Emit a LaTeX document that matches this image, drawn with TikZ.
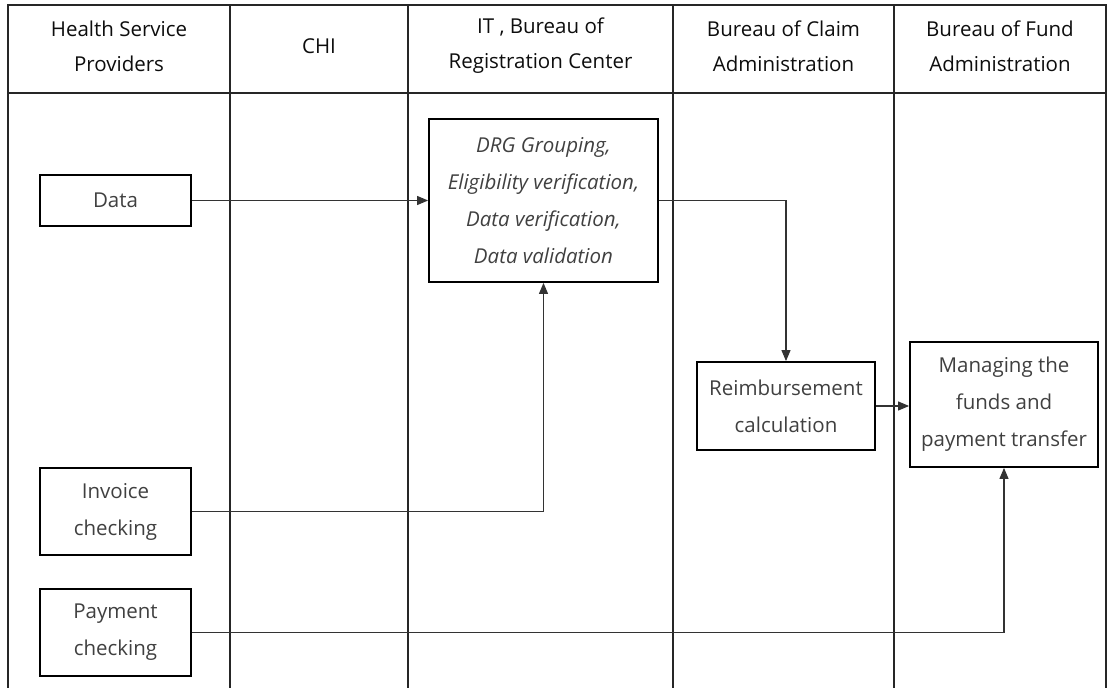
\documentclass[tikz,border=0pt]{standalone}
\usepackage{fontspec}
\setmainfont{Open Sans}
\usetikzlibrary{arrows.meta}
\begin{document}
\begin{tikzpicture}[x=1pt,y=-1pt,
  lane/.style={draw=black!85, line width=1.3pt},
  head/.style={align=center, font=\fontsize{20.5}{35}\selectfont, text=black!95},
  proc/.style={draw=black, line width=1.8pt, align=center, inner sep=0pt,
               font=\fontsize{20.5}{37}\selectfont, text=black!75},
  flow/.style={draw=black!80, line width=1.1pt, -{Triangle[length=11pt,width=9pt]}}]
\useasboundingbox (0,0) rectangle (1112,688);

% swimlane frame and header row
\draw[lane] (8,688) -- (8,5) -- (1106,5) -- (1106,688);
\draw[lane] (8,93) -- (1106,93);
\foreach \x in {230,408,673,894} \draw[lane] (\x,5) -- (\x,688);

% lane titles
\node[head] (h1) at (119,46)    {Health Service\\Providers};
\node[head] (h2) at (319,46)    {CHI};
\node[head] (h3) at (540.5,46)  {IT , Bureau of\\Registration Center};
\node[head] (h4) at (783.5,46)  {Bureau of Claim\\Administration};
\node[head] (h5) at (1000,46)   {Bureau of Fund\\Administration};

% process boxes
\node[proc, minimum width=151pt, minimum height=51pt]  (data)    at (115.5,200.5) {Data};
\node[proc, minimum width=229pt, minimum height=163pt] (drg)     at (543.5,200.5)
  {\itshape DRG Grouping,\\\itshape Eligibility verification,\\\itshape Data verification,\\\itshape Data validation};
\node[proc, minimum width=178pt, minimum height=88pt]  (reimb)   at (786,406)     {Reimbursement\\calculation};
\node[proc, minimum width=188pt, minimum height=125pt] (manage)  at (1004,404.5)  {Managing the\\funds and\\payment transfer};
\node[proc, minimum width=151pt, minimum height=87pt]  (invoice) at (115.5,511.5) {Invoice\\checking};
\node[proc, minimum width=151pt, minimum height=87pt]  (payment) at (115.5,632.5) {Payment\\checking};

% flows
\draw[flow] (data.east) -- (drg.west);
\draw[flow] (drg.east) -| (reimb.north);
\draw[flow] (reimb.east) -- (reimb.east -| manage.west);
\draw[flow] (invoice.east) -| (drg.south);
\draw[flow] (payment.east) -| (manage.south);
\end{tikzpicture}
\end{document}
